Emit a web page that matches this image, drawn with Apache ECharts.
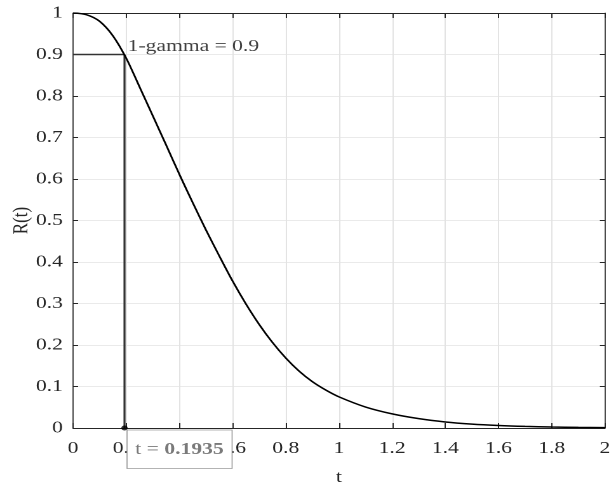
<!DOCTYPE html>
<html>
<head>
<meta charset="utf-8">
<script src="https://cdn.jsdelivr.net/npm/echarts@6/dist/echarts.min.js"></script>
<style>
html,body{margin:0;padding:0;background:#fff;overflow:hidden;}
#wrap{width:616px;height:486px;overflow:hidden;}
#chart{width:485px;height:486px;transform:scaleX(1.2701);transform-origin:0 0;}
</style>
</head>
<body>
<div id="wrap"><div id="chart"></div></div>
<script>
// ---- data ----
const tValues = [0, 0.05, 0.1, 0.15, 0.2, 0.25, 0.3, 0.35, 0.4, 0.45, 0.5, 0.55, 0.6, 0.65, 0.7, 0.75, 0.8, 0.85, 0.9, 0.95, 1.0, 1.1, 1.2, 1.3, 1.4, 1.5, 1.6, 1.7, 1.8, 1.9, 2.0];
const rValues = [1.000, 0.996, 0.980, 0.945, 0.891, 0.822, 0.752, 0.682, 0.611, 0.543, 0.477, 0.4145, 0.354, 0.299, 0.2495, 0.206, 0.1685, 0.137, 0.1115, 0.0915, 0.075, 0.0505, 0.034, 0.0225, 0.0145, 0.0093, 0.006, 0.0038, 0.0024, 0.0015, 0.0009];
const gammaLevel = 0.9;
const tStar = 0.1935;
const gammaLabel = '1-gamma = ' + gammaLevel;
const tipPrefix = 't = ';
const xRange = [0, 2, 0.2];
const yRange = [0, 1, 0.1];
const xName = 't';
const yName = 'R(t)';

const FONT = 'Liberation Serif';
const AX = '#262626';
const GRID = '#e3e3e3';

const chart = echarts.init(document.getElementById('chart'), null, {renderer: 'canvas', devicePixelRatio: 2});

const baseX = {
  type: 'value', min: xRange[0], max: xRange[1], interval: xRange[2],
  axisLine: {show: true, onZero: false, lineStyle: {color: AX, width: 1}},
  axisTick: {show: true, inside: true, length: 5, lineStyle: {color: AX}},
};
const baseY = {
  type: 'value', min: yRange[0], max: yRange[1], interval: yRange[2],
  axisLine: {show: true, onZero: false, lineStyle: {color: AX, width: 0.8}},
  axisTick: {show: true, inside: true, length: 4, lineStyle: {color: AX}},
};

chart.setOption({
  animation: false,
  backgroundColor: '#fff',
  textStyle: {fontFamily: FONT},
  grid: {left: 57.5, right: 8.7, top: 13, bottom: 58, containLabel: false, outerBoundsMode: 'none'},
  xAxis: [
    Object.assign({}, baseX, {
      position: 'bottom',
      name: xName, nameLocation: 'middle', nameGap: 41, nameMoveOverlap: false,
      nameTextStyle: {fontFamily: FONT, fontSize: 17, color: AX},
      axisLabel: {show: true, margin: 12, fontFamily: FONT, fontSize: 17, color: AX},
      splitLine: {show: true, lineStyle: {color: GRID, width: 1}}
    }),
    Object.assign({}, baseX, {
      position: 'top',
      axisLabel: {show: false},
      splitLine: {show: false}
    })
  ],
  yAxis: [
    Object.assign({}, baseY, {
      position: 'left',
      name: yName, nameLocation: 'middle', nameGap: 32, nameRotate: 90, nameMoveOverlap: false,
      nameTextStyle: {fontFamily: FONT, fontSize: 17, color: AX},
      axisLabel: {show: true, margin: 8, fontFamily: FONT, fontSize: 17, color: AX},
      splitLine: {show: true, lineStyle: {color: GRID, width: 0.8}}
    }),
    Object.assign({}, baseY, {
      position: 'right',
      axisLabel: {show: false},
      splitLine: {show: false}
    })
  ],
  series: [
    {
      type: 'line',
      xAxisIndex: 0, yAxisIndex: 0,
      data: tValues.map((t, i) => [t, rValues[i]]),
      smooth: 0.3,
      showSymbol: false,
      lineStyle: {color: '#000', width: 1.5},
      z: 3
    },
    {
      type: 'line',
      xAxisIndex: 0, yAxisIndex: 0,
      data: [[xRange[0], gammaLevel], [tStar, gammaLevel], [tStar, yRange[0]]],
      showSymbol: false,
      lineStyle: {color: '#333', width: 1.6},
      z: 2
    },
    {
      type: 'scatter',
      xAxisIndex: 0, yAxisIndex: 0,
      data: [[tStar, gammaLevel]],
      symbolSize: 1,
      itemStyle: {color: 'rgba(0,0,0,0)'},
      label: {
        show: true, position: 'right', distance: 2, offset: [0, -8],
        formatter: gammaLabel,
        fontFamily: FONT, fontSize: 17, color: '#111'
      },
      z: 4
    },
    {
      type: 'scatter',
      xAxisIndex: 0, yAxisIndex: 0,
      data: [[tStar, yRange[0]]],
      symbolSize: 5,
      itemStyle: {color: '#000'},
      z: 5
    }
  ]
});

// data tip box, anchored through the axes' own conversion
const p = chart.convertToPixel({xAxisIndex: 0, yAxisIndex: 0}, [tStar, yRange[0]]);
const boxX = p[0] + 2, boxY = p[1] + 2, boxW = 82.7, boxH = 38.5;
chart.setOption({
  graphic: [
    {
      type: 'group', zlevel: 2, z: 100,
      children: [
        {type: 'rect', shape: {x: boxX, y: boxY, width: boxW, height: boxH},
         style: {fill: '#fff', stroke: '#9a9a9a', lineWidth: 0.8}, z: 100},
        {type: 'text', x: boxX + 6.5, y: boxY + boxH / 2 + 0.5, z: 101,
         style: {
           text: tipPrefix + '{b|' + tStar + '}',
           fontFamily: FONT, fontSize: 17, fill: '#7a7a7a',
           verticalAlign: 'middle', align: 'left',
           rich: {b: {fontFamily: FONT, fontSize: 17, fontWeight: 'bold', fill: '#7a7a7a'}}
         }}
      ]
    }
  ]
});
</script>
</body>
</html>
